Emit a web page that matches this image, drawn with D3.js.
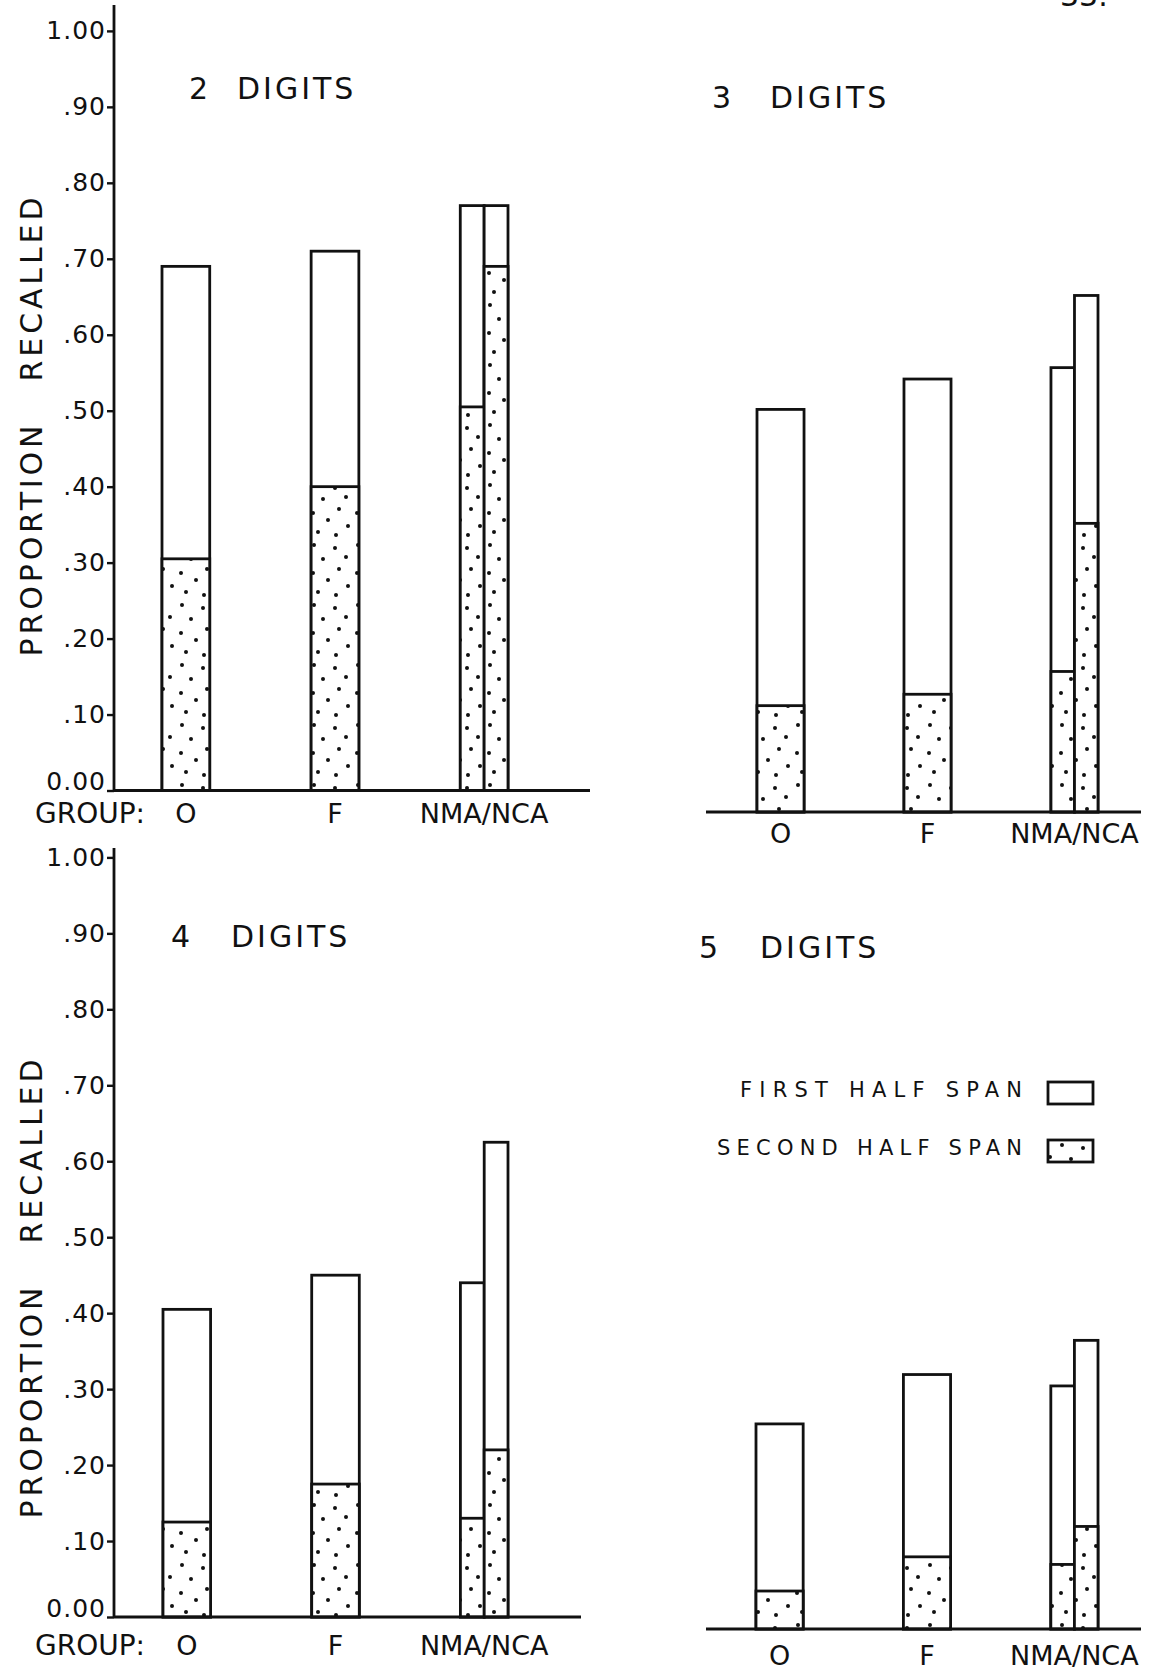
<!DOCTYPE html>
<html>
<head>
<meta charset="utf-8">
<script src="https://cdn.jsdelivr.net/npm/d3@7/dist/d3.min.js"></script>
<style>
  body { margin: 0; background: #fff; }
  svg { display: block; }
  text { font-family: "DejaVu Sans", "Liberation Sans", sans-serif; fill: #111; }
</style>
</head>
<body>
<script>
// groups on the x axis, and the bars drawn inside them
var groups = ["O", "F", "NMA/NCA"];
var barKeys = ["O", "F", "NMA", "NCA"];
var barGroup = ["O", "F", "NMA/NCA", "NMA/NCA"];

var panelTitles = ["2 DIGITS", "3 DIGITS", "4 DIGITS", "5 DIGITS"];

// proportion recalled
var firstHalf2 = [0.69, 0.71, 0.77, 0.77];
var secondHalf2 = [0.305, 0.40, 0.505, 0.69];
var firstHalf3 = [0.53, 0.57, 0.585, 0.68];
var secondHalf3 = [0.14, 0.155, 0.185, 0.38];
var firstHalf4 = [0.405, 0.45, 0.44, 0.625];
var secondHalf4 = [0.125, 0.175, 0.13, 0.22];
var firstHalf5 = [0.27, 0.335, 0.32, 0.38];
var secondHalf5 = [0.05, 0.095, 0.085, 0.135];

var tickValues = [0, 0.1, 0.2, 0.3, 0.4, 0.5, 0.6, 0.7, 0.8, 0.9, 1.0];
var tickLabels = ["0.00", ".10", ".20", ".30", ".40", ".50", ".60", ".70", ".80", ".90", "1.00"];

var legendLabels = ["FIRST HALF SPAN", "SECOND HALF SPAN"];
var yLabel = "PROPORTION   RECALLED";

var width = 1150,
    height = 1672,
    unit = 759.6;   // pixels for a proportion of 1.0

var svg = d3.select("body").append("svg")
    .attr("width", width)
    .attr("height", height);

svg.append("rect").attr("width", width).attr("height", height).attr("fill", "white");

// stipple used for the second half of the span (hand-placed dots in one tile)
var defs = svg.append("defs");
var pat = defs.append("pattern")
    .attr("id", "dots")
    .attr("patternUnits", "userSpaceOnUse")
    .attr("width", 44)
    .attr("height", 60);
pat.append("rect").attr("width", 44).attr("height", 60).attr("fill", "white");
[[6, 5], [27, 8], [38, 17], [15, 19], [31, 29], [5, 33],
 [20, 40], [40, 46], [10, 52], [28, 55]].forEach(function (p) {
    pat.append("circle").attr("cx", p[0]).attr("cy", p[1]).attr("r", 2).attr("fill", "#111");
});

var layout = [
    {first: firstHalf2, second: secondHalf2, base: 790.5, x0: 162, x1: 508, axisX: 114, axisTop: 5,
     lineX: [114, 590], numX: 189, wordX: 237, titleY: 99, labelY: 823, groupWord: true, yLabelY: 427},
    {first: firstHalf3, second: secondHalf3, base: 812, x0: 757, x1: 1098, axisX: null,
     lineX: [706, 1141], numX: 712, wordX: 770, titleY: 108, labelY: 843, groupWord: false},
    {first: firstHalf4, second: secondHalf4, base: 1617, x0: 163, x1: 508, axisX: 114, axisTop: 848,
     lineX: [114, 581], numX: 171, wordX: 231, titleY: 947, labelY: 1655, groupWord: true, yLabelY: 1289},
    {first: firstHalf5, second: secondHalf5, base: 1629, x0: 756, x1: 1098, axisX: null,
     lineX: [706, 1141], numX: 699, wordX: 760, titleY: 958, labelY: 1665, groupWord: false}
];

layout.forEach(function (p, pi) {
    var g = svg.append("g");

    var y = d3.scaleLinear().domain([0, 1]).range([p.base, p.base - unit]);
    var x = d3.scaleBand().domain(groups).range([p.x0, p.x1]).paddingInner(0.68).paddingOuter(0);
    var sub = d3.scaleBand().domain(["NMA", "NCA"]).range([0, x.bandwidth()]);

    function barX(i) {
        var gx = x(barGroup[i]);
        if (barGroup[i] === "NMA/NCA") return gx + sub(barKeys[i]);
        return gx;
    }
    function barW(i) {
        return barGroup[i] === "NMA/NCA" ? sub.bandwidth() : x.bandwidth();
    }

    // first half span: open bars
    g.selectAll(".first")
        .data(p.first)
        .enter().append("rect")
        .attr("class", "first")
        .attr("x", function (d, i) { return barX(i); })
        .attr("width", function (d, i) { return barW(i); })
        .attr("y", function (d) { return y(d); })
        .attr("height", function (d) { return y(0) - y(d); })
        .attr("fill", "white")
        .attr("stroke", "#111")
        .attr("stroke-width", 2.8);

    // second half span: dotted bars
    g.selectAll(".second")
        .data(p.second)
        .enter().append("rect")
        .attr("class", "second")
        .attr("x", function (d, i) { return barX(i); })
        .attr("width", function (d, i) { return barW(i); })
        .attr("y", function (d) { return y(d); })
        .attr("height", function (d) { return y(0) - y(d); })
        .attr("fill", "url(#dots)")
        .attr("stroke", "#111")
        .attr("stroke-width", 2.8);

    // x axis line
    g.append("line")
        .attr("x1", p.lineX[0]).attr("x2", p.lineX[1])
        .attr("y1", y(0)).attr("y2", y(0))
        .attr("stroke", "#111")
        .attr("stroke-width", 2.8);

    // y axis
    if (p.axisX !== null) {
        g.append("line")
            .attr("x1", p.axisX).attr("x2", p.axisX)
            .attr("y1", y(0)).attr("y2", p.axisTop)
            .attr("stroke", "#111")
            .attr("stroke-width", 2.8);

        var ax = g.append("g")
            .attr("transform", "translate(" + p.axisX + ",0)")
            .call(d3.axisLeft(y)
                .tickValues(tickValues)
                .tickFormat(function (d, i) { return tickLabels[i]; })
                .tickSize(7)
                .tickSizeOuter(0)
                .tickPadding(1));
        ax.select(".domain").remove();
        ax.selectAll(".tick line").attr("stroke", "#111").attr("stroke-width", 2.4);
        ax.selectAll(".tick text")
            .attr("fill", "#111")
            .attr("y", function (d) { return d === 0 ? -9 : 0; })
            .style("font-family", "DejaVu Sans")
            .style("font-size", "25px")
            .style("letter-spacing", "1px");

        g.append("text")
            .attr("transform", "translate(42," + p.yLabelY + ") rotate(-90)")
            .attr("text-anchor", "middle")
            .attr("textLength", 459)
            .attr("lengthAdjust", "spacing")
            .style("white-space", "pre")
            .style("font-size", "30px")
            .text(yLabel);
    }

    // panel title
    var parts = panelTitles[pi].split(" ");
    g.append("text")
        .attr("x", p.numX).attr("y", p.titleY)
        .style("font-size", "30px")
        .text(parts[0]);
    g.append("text")
        .attr("x", p.wordX).attr("y", p.titleY)
        .style("font-size", "30px")
        .style("letter-spacing", "3px")
        .text(parts[1]);

    // group labels
    if (p.groupWord) {
        g.append("text")
            .attr("x", 35).attr("y", p.labelY)
            .style("font-size", "28px")
            .text("GROUP:");
    }
    g.selectAll(".glabel")
        .data(groups)
        .enter().append("text")
        .attr("class", "glabel")
        .attr("x", function (d) { return x(d) + x.bandwidth() / 2; })
        .attr("y", p.labelY)
        .attr("text-anchor", "middle")
        .style("font-size", "27px")
        .text(function (d) { return d; });
});

// legend
var legendY = [1097, 1155];
var legendX = [740, 717];
legendLabels.forEach(function (l, i) {
    svg.append("text")
        .attr("x", legendX[i]).attr("y", legendY[i])
        .attr("textLength", 1022 - legendX[i])
        .attr("lengthAdjust", "spacing")
        .style("font-size", "21px")
        .text(l);
    svg.append("rect")
        .attr("x", 1048).attr("y", legendY[i] - 15)
        .attr("width", 45).attr("height", 22)
        .attr("fill", i === 0 ? "white" : "url(#dots)")
        .attr("stroke", "#111")
        .attr("stroke-width", 2.8);
});

// page number, cut at the top edge
svg.append("text")
    .attr("x", 1060).attr("y", 6)
    .style("font-size", "30px")
    .text("33.");
</script>
</body>
</html>
